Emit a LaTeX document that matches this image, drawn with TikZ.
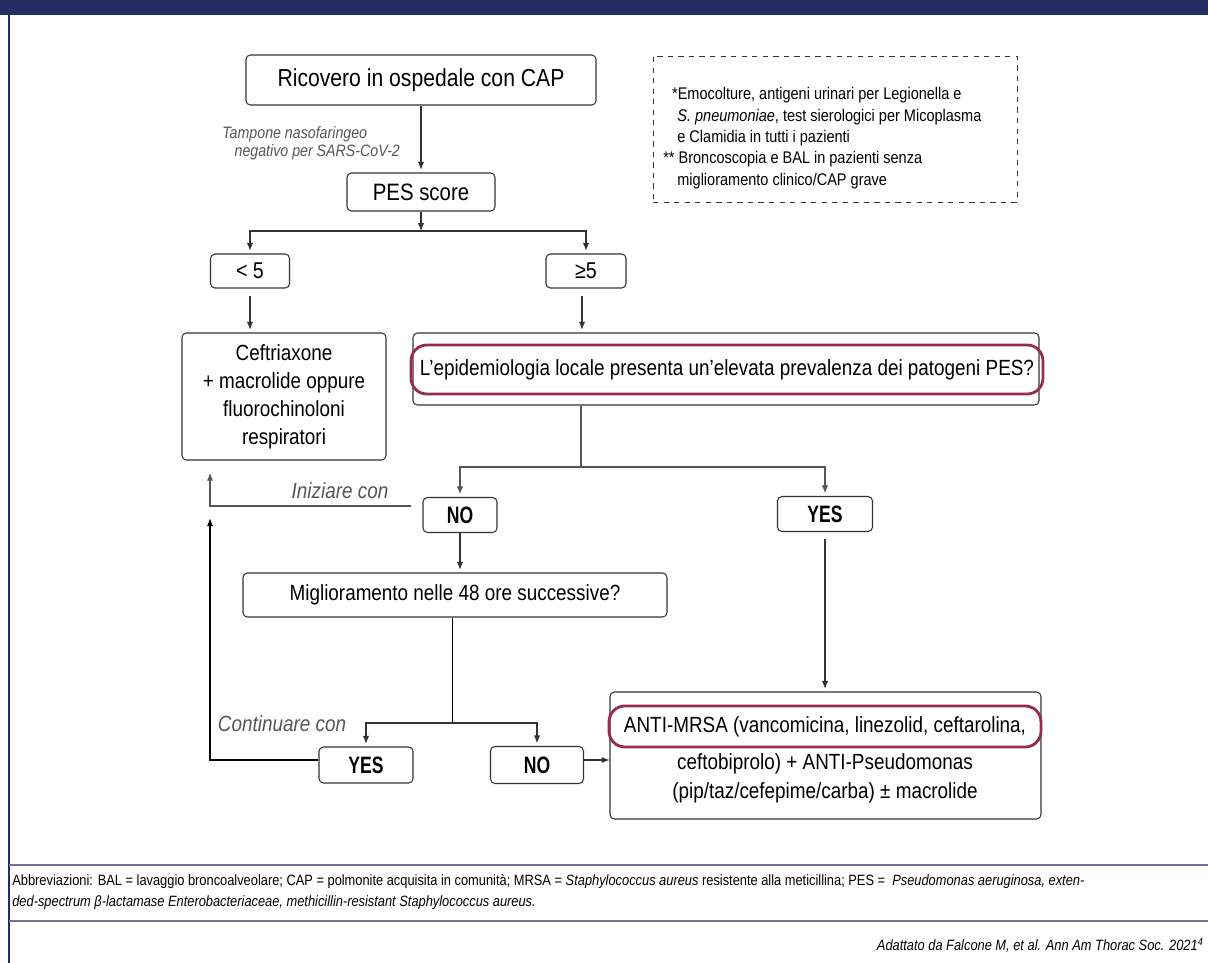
\documentclass[tikz,border=0pt]{standalone}
\usepackage{fontspec}
\setmainfont{Liberation Sans}[FakeStretch=0.86]
\newfontfamily\cndfont{Liberation Sans}[FakeStretch=0.74]
\usetikzlibrary{arrows.meta,positioning,calc}
\definecolor{navy}{HTML}{242E66}
\definecolor{maroon}{HTML}{962D50}
\definecolor{slate}{HTML}{6B7196}
\definecolor{labgray}{HTML}{555555}
\definecolor{edgegray}{HTML}{333333}
\newcommand{\px}{0.02cm}

\begin{document}
\begin{tikzpicture}[x=\px, y=-\px,
                box/.style={draw=edgegray, line width=0.6pt, rounded corners=2.5pt, fill=white,
                  align=center, inner sep=0pt, font=\fontsize{12.5}{16}\selectfont},
                ynbox/.style={box, font=\cndfont\bfseries\fontsize{13.5}{16}\selectfont},
                hilite/.style={draw=maroon, line width=1.6pt, rounded corners=9pt, align=center,
                  inner sep=0pt, font=\fontsize{12.5}{16}\selectfont},
                lab/.style={text=labgray, inner sep=0pt, font=\itshape\fontsize{12.5}{15}\selectfont},
                arr/.style={-{Latex[length=4.5pt,width=3.6pt]}, draw=edgegray, line width=0.6pt, shorten >=1.5pt},
                garr/.style={arr, draw=labgray},
                gline/.style={draw=labgray, line width=0.6pt}
                ]
  \useasboundingbox (0,0) rectangle (1208,963);
  % frame
  \fill[navy] (0,0) rectangle (1208,15);
  \draw[navy, line width=0.6pt] (9,15) -- (9,963);
  \draw[slate, line width=1.2pt] (9,865) -- (1208,865);
  \draw[slate, line width=1.2pt] (9,921) -- (1208,921);

  % boxes
  \node[box, minimum width=350*\px, minimum height=50*\px, font=\fontsize{14}{16}\selectfont] (adm) at (421,80) {Ricovero in ospedale con CAP};
  \node[box, minimum width=148*\px, minimum height=38*\px, font=\fontsize{13.5}{16}\selectfont] (pes) at (421,192) {PES score};
  \node[box, minimum width=79*\px, minimum height=34*\px, font=\fontsize{13}{16}\selectfont] (lt5) at (250,271) {< 5};
  \node[box, minimum width=80*\px, minimum height=34*\px, font=\fontsize{13}{16}\selectfont] (ge5) at (586,271) {≥5};
  \node[box, minimum width=204*\px, minimum height=127*\px] (ceft) at (284,396.5)
    {Ceftriaxone\\+ macrolide oppure\\fluorochinoloni\\respiratori};
  \node[box, minimum width=626*\px, minimum height=72*\px] (epi) at (726,369) {};
  \node[hilite, minimum width=632*\px, minimum height=49*\px] (epiq) at (727,369.5)
    {L’epidemiologia locale presenta un’elevata prevalenza dei patogeni PES?};
  \node[ynbox, minimum width=74*\px, minimum height=35*\px] (no1) at (460,515) {NO};
  \node[ynbox, minimum width=95*\px, minimum height=35*\px] (yes1) at (825,514) {YES};
  \node[box, minimum width=424*\px, minimum height=44*\px] (migl) at (455,595) {Miglioramento nelle 48 ore successive?};
  \node[ynbox, minimum width=94*\px, minimum height=36*\px] (yes2) at (366,765) {YES};
  \node[ynbox, minimum width=93*\px, minimum height=37*\px] (no2) at (537,765) {NO};
  \node[box, minimum width=431*\px, minimum height=127*\px] (anti) at (825.5,755.5) {};
  \node[hilite, minimum width=432*\px, minimum height=41*\px] (antiq) at (825,726.5)
    {ANTI-MRSA (vancomicina, linezolid, ceftarolina,};
  \node[inner sep=0pt, align=center, font=\fontsize{12.5}{16.5}\selectfont] (antit) at (825,778)
    {ceftobiprolo) + ANTI-Pseudomonas\\(pip/taz/cefepime/carba) ± macrolide};

  % note
  \node[draw=edgegray, dashed, line width=0.5pt, minimum width=364*\px, minimum height=146*\px] (notebox) at (835,129) {};
  \node[anchor=north west, inner sep=0pt, align=left, font=\fontsize{9.6}{12.2}\selectfont] (notes) at (663,87)
    {\hspace*{5pt}*Emocolture, antigeni urinari per Legionella e\\
     \hspace*{8pt}\textit{S. pneumoniae}, test sierologici per Micoplasma\\
     \hspace*{8pt}e Clamidia in tutti i pazienti\\
     ** Broncoscopia e BAL in pazienti senza\\
     \hspace*{8pt}miglioramento clinico/CAP grave};

  % labels
  \node[lab, anchor=west, align=left, font=\itshape\fontsize{9.4}{10.2}\selectfont] (swab) at (222,143)
    {Tampone nasofaringeo\\\hspace*{7pt}negativo per SARS-CoV-2};
  \node[lab] (start) at (340,491) {Iniziare con};
  \node[lab] (cont) at (282,724) {Continuare con};

  % connectors
  \coordinate (split1) at (421,231);
  \coordinate (split2) at (581,467);
  \coordinate (split3) at (452,723);
  \coordinate (inibend) at (210,506);
  \coordinate (contbend) at (210,760);
  \draw[arr] (adm) -- (pes);
  \draw[arr, shorten >=0pt] (pes) -- (split1);
  \draw[arr] (split1) -| (lt5);
  \draw[arr] (split1) -| (ge5);
  \draw[arr, shorten <=4pt] (lt5) -- (lt5 |- ceft.north);
  \draw[arr, shorten <=4pt] (ge5.south -| 582,0) -- (582,0 |- epi.north);
  \draw[gline] (split2 |- epi.south) -- (split2);
  \draw[garr] (split2) -| (no1);
  \draw[garr] (split2) -| (yes1);
  \draw[garr, shorten >=7pt] ($(no1.west |- inibend)+(-11,0)$) -- (inibend) -- (inibend |- ceft.south);
  \draw[arr] (no1) -- (no1 |- migl.north);
  \draw[arr, shorten <=4pt] (yes1) -- (yes1 |- anti.north);
  \draw (split3 |- migl.south) -- (split3);
  \draw[arr] (split3) -| (yes2);
  \draw[arr] (split3) -| (no2);
  \draw[arr, draw=black, shorten >=7pt] (yes2.west |- contbend) -- (contbend) -- (contbend |- inibend);
  \draw[arr, shorten >=0pt] (no2.east |- 0,760) -- (anti.west |- 0,760);

  % footer
  \node[anchor=west, inner sep=0pt, align=left, font=\fontsize{8.5}{12}\selectfont] (abbr) at (12,892)
    {Abbreviazioni: BAL = lavaggio broncoalveolare; CAP = polmonite acquisita in comunità; MRSA = \textit{Staphylococcus aureus} resistente alla meticillina; PES = \ \textit{Pseudomonas aeruginosa, exten-}\\
     \textit{ded-spectrum β-lactamase Enterobacteriaceae, methicillin-resistant Staphylococcus aureus.}};
  \node[anchor=east, inner sep=0pt, font=\itshape\fontsize{8.5}{12}\selectfont] (src) at (1204,945)
    {Adattato da Falcone M, et al. Ann Am Thorac Soc. 2021\textsuperscript{4}};
\end{tikzpicture}
\end{document}
